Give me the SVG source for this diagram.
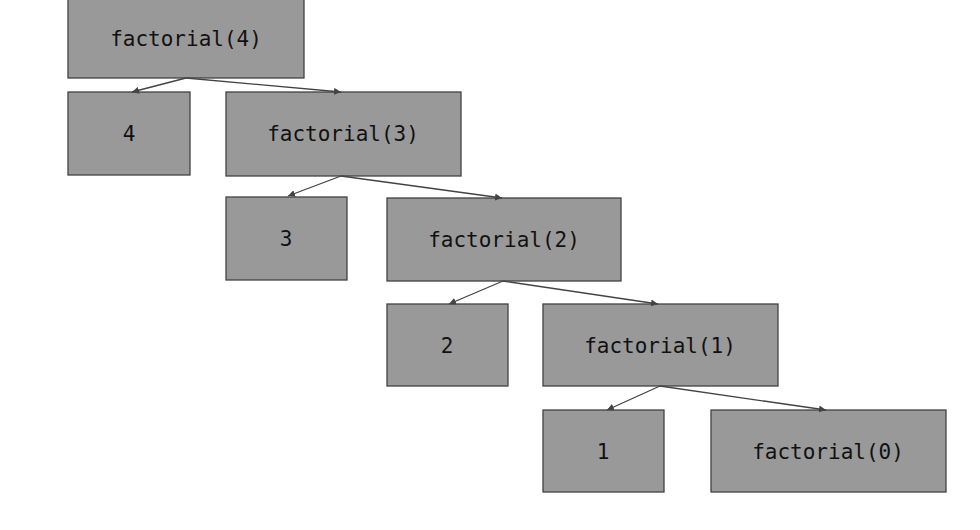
<svg xmlns="http://www.w3.org/2000/svg" width="980" height="530" viewBox="0 0 980 530">
<style>
.n{fill:#999999;stroke:#434343;stroke-width:1.3}
.t{font-family:"DejaVu Sans Mono","Liberation Mono",monospace;font-size:21px;fill:#111;text-anchor:middle;dominant-baseline:central}
.c{stroke:#434343;stroke-width:1.3;fill:none;marker-end:url(#a)}
</style>
<defs><marker id="a" viewBox="0 0 10 10" refX="10" refY="5" markerWidth="7" markerHeight="7" orient="auto" markerUnits="userSpaceOnUse"><path d="M0,0L10,5L0,10z" fill="#434343"/></marker></defs>
<rect width="980" height="530" fill="#fff"/>
<g id="f4"><rect class="n" x="68" y="-5" width="236" height="83"/><text class="t" x="186" y="39">factorial(4)</text></g>
<g id="n4"><rect class="n" x="68" y="92" width="122" height="83"/><text class="t" x="129" y="134">4</text></g>
<g id="f3"><rect class="n" x="226" y="92" width="235" height="84"/><text class="t" x="343" y="134">factorial(3)</text></g>
<g id="n3"><rect class="n" x="226" y="197" width="121" height="83"/><text class="t" x="286" y="239">3</text></g>
<g id="f2"><rect class="n" x="387" y="198" width="234" height="83"/><text class="t" x="504" y="240">factorial(2)</text></g>
<g id="n2"><rect class="n" x="387" y="304" width="121" height="82"/><text class="t" x="447" y="346">2</text></g>
<g id="f1"><rect class="n" x="543" y="304" width="235" height="82"/><text class="t" x="660" y="346">factorial(1)</text></g>
<g id="n1"><rect class="n" x="543" y="410" width="121" height="82"/><text class="t" x="603" y="452">1</text></g>
<g id="f0"><rect class="n" x="711" y="410" width="235" height="82"/><text class="t" x="828" y="452">factorial(0)</text></g>
<g id="connectors">
<path class="c" d="M186,78L132,92"/><path class="c" d="M186,78L341,92"/>
<path class="c" d="M341,176L288,196"/><path class="c" d="M341,176L502,198"/>
<path class="c" d="M503,281L449,304"/><path class="c" d="M503,281L658,304"/>
<path class="c" d="M660,386L607,410"/><path class="c" d="M660,386L826,410"/>
</g>
</svg>
